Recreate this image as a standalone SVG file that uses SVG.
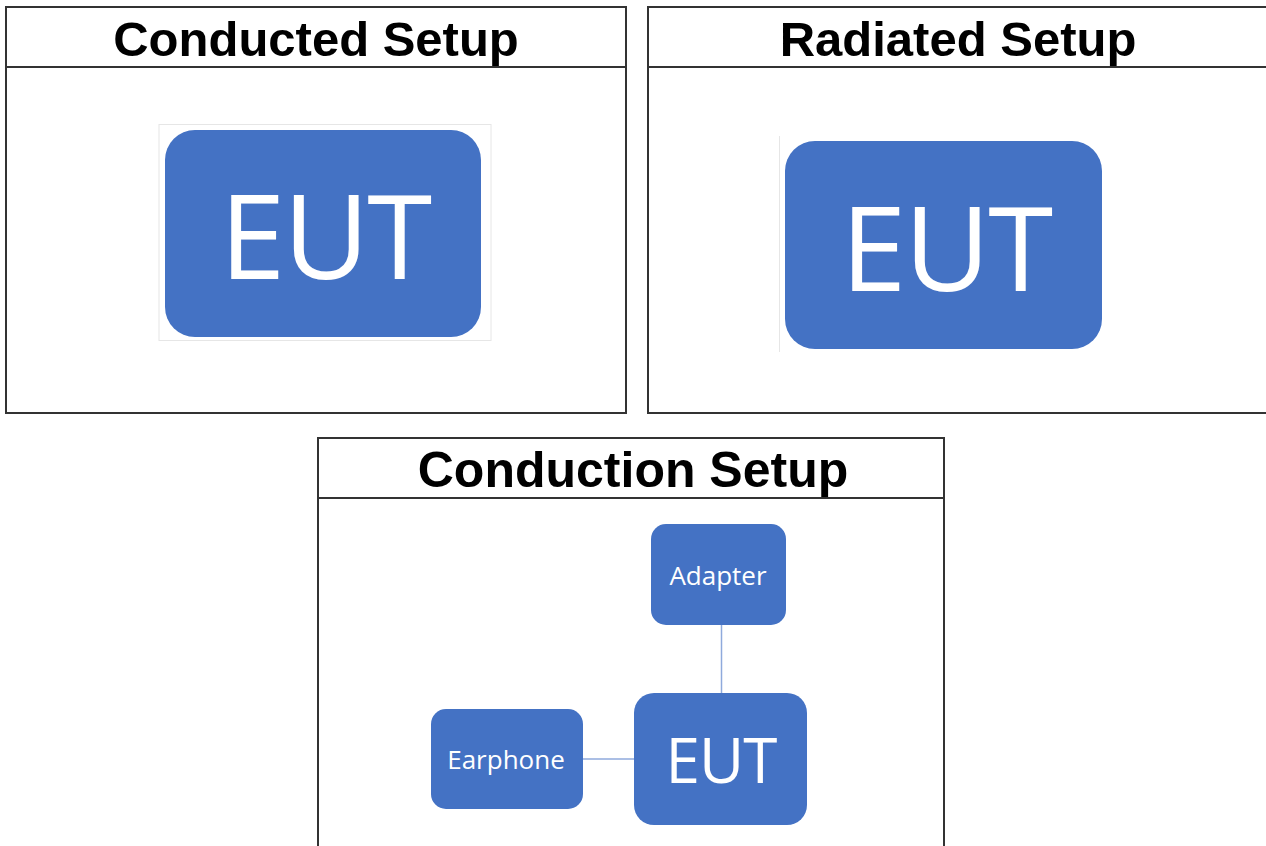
<svg xmlns="http://www.w3.org/2000/svg" width="1266" height="846" viewBox="0 0 1266 846">
<style>
.panel{fill:#fff;stroke:#333;stroke-width:2}
.hdr{stroke:#333;stroke-width:2}
.title{font-family:"Liberation Sans",Arial,sans-serif;font-weight:bold;fill:#000;text-anchor:middle}
.box{fill:#4472C4}
.lbl{font-family:"Open Sans","Noto Sans",sans-serif;fill:#fff;text-anchor:middle}
.conn{stroke:#8FAADC;stroke-width:1.5;fill:none}
.frame{fill:none;stroke:#e6e6e6;stroke-width:1}
</style>
<rect width="1266" height="846" fill="#fff"/>
<g id="panel-conducted">
<rect class="panel" x="6" y="7" width="620" height="406"/>
<line class="hdr" x1="6" y1="67" x2="626" y2="67"/>
<text class="title" x="316" y="56" font-size="49">Conducted Setup</text>
<rect class="frame" x="159" y="124.5" width="332" height="216"/>
<g id="eut1">
<rect class="box" x="165" y="130" width="316" height="207" rx="30"/>
<text class="lbl" x="325" y="279" font-size="118" letter-spacing="-2">EUT</text>
</g>
</g>
<g id="panel-radiated">
<rect class="panel" x="648" y="7" width="630" height="406"/>
<line class="hdr" x1="648" y1="67" x2="1266" y2="67"/>
<text class="title" x="958" y="56" font-size="49">Radiated Setup</text>
<line class="frame" x1="779.5" y1="136" x2="779.5" y2="352"/>
<g id="eut2">
<rect class="box" x="785" y="141" width="317" height="208" rx="30"/>
<text class="lbl" x="946" y="291" font-size="118" letter-spacing="-2">EUT</text>
</g>
</g>
<g id="panel-conduction">
<rect class="panel" x="318" y="438" width="626" height="420"/>
<line class="hdr" x1="318" y1="498" x2="944" y2="498"/>
<text class="title" x="633" y="487" font-size="50">Conduction Setup</text>
</g>
<g id="connectors">
<line class="conn" x1="721.5" y1="625" x2="721.5" y2="693"/>
<line class="conn" x1="583" y1="759" x2="634" y2="759"/>
</g>
<g id="adapter">
<rect class="box" x="651" y="524" width="135" height="101" rx="15"/>
<text class="lbl" x="718" y="585" font-size="26">Adapter</text>
</g>
<g id="earphone">
<rect class="box" x="431" y="709" width="152" height="100" rx="15"/>
<text class="lbl" x="506" y="769" font-size="26">Earphone</text>
</g>
<g id="eut3">
<rect class="box" x="634" y="693" width="173" height="132" rx="20"/>
<text class="lbl" x="721" y="783" font-size="62" letter-spacing="-1">EUT</text>
</g>
</svg>
